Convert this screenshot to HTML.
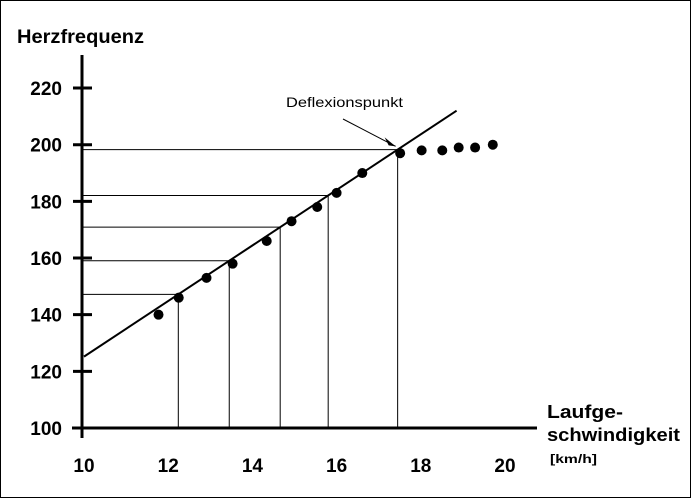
<!DOCTYPE html>
<html><head><meta charset="utf-8"><style>
html,body{margin:0;padding:0;background:#fff;}
svg{display:block;font-family:"Liberation Sans",Arial,sans-serif;}
</style></head><body>
<svg id="c" width="692" height="499" viewBox="0 0 692 499">
<rect x="0.5" y="0.5" width="690" height="497" fill="#fff" stroke="#000"/>
<text x="17" y="43" font-size="19" font-weight="bold" textLength="127" lengthAdjust="spacingAndGlyphs">Herzfrequenz</text>
<text x="547" y="418" font-size="18" font-weight="bold" textLength="76" lengthAdjust="spacingAndGlyphs">Laufge-</text>
<text x="547" y="441" font-size="18" font-weight="bold" textLength="133" lengthAdjust="spacingAndGlyphs">schwindigkeit</text>
<text x="550" y="463" font-size="12" font-weight="bold" textLength="47" lengthAdjust="spacingAndGlyphs">[km/h]</text>
<text x="286" y="107" font-size="14" textLength="117" lengthAdjust="spacingAndGlyphs">Deflexionspunkt</text>
<g id="g"></g>
</svg>
<script>
const xTicks = [10, 12, 14, 16, 18, 20];
const yTicks = [100, 120, 140, 160, 180, 200, 220];
const speeds = [11.77, 12.25, 12.91, 13.53, 14.34, 14.93, 15.54, 16.0, 16.61, 17.51, 18.02, 18.51, 18.9, 19.29, 19.71];
const heartRates = [140, 146, 153, 158, 166, 173, 178, 183, 190, 197, 198, 198, 199, 199, 200];
const lineStart = [10, 125.2];
const lineEnd = [18.85, 212];
const dropSpeeds = [12.24, 13.45, 14.66, 15.8, 17.45];
const deflection = [17.45, 198];

const X = v => 84 + (v - 10) * 42.1;
const Y = v => 428 - (v - 100) * 2.833;
const lineAt = s => lineStart[1] + (s - lineStart[0]) * (lineEnd[1] - lineStart[1]) / (lineEnd[0] - lineStart[0]);
const g = document.getElementById('g');
const NS = 'http://www.w3.org/2000/svg';
function mk(tag, attrs, txt) {
  const e = document.createElementNS(NS, tag);
  for (const k in attrs) e.setAttribute(k, attrs[k]);
  if (txt !== undefined) e.textContent = txt;
  g.appendChild(e);
  return e;
}
dropSpeeds.forEach(s => {
  const yy = Y(lineAt(s));
  let h = mk('line', {x1: 82, x2: X(s), y1: yy, y2: yy, stroke: '#000', 'stroke-width': 1});
  
  
  let v = mk('line', {x1: X(s), x2: X(s), y1: yy, y2: 428, stroke: '#000', 'stroke-width': 1});
  
  
});
let ya = mk('line', {x1: 82, x2: 82, y1: 55, y2: 438, stroke: '#000', 'stroke-width': 3});


let xa = mk('line', {x1: 72, x2: 537, y1: 428, y2: 428, stroke: '#000', 'stroke-width': 3});


yTicks.forEach(t => {
  if (t > 100) {
    let tk = mk('line', {x1: 73, x2: 92, y1: Y(t), y2: Y(t), stroke: '#000', 'stroke-width': 3});
    
    
  }
  let tl = mk('text', {x: 62, y: Y(t) + 7, 'font-size': 19, 'font-weight': 'bold', 'text-anchor': 'end'}, t);
  
  
});
xTicks.forEach(t => {
  let tl = mk('text', {x: X(t), y: 472, 'font-size': 19, 'font-weight': 'bold', 'text-anchor': 'middle'}, t);
  
  
});
let rl = mk('line', {x1: X(lineStart[0]), y1: Y(lineStart[1]), x2: X(lineEnd[0]), y2: Y(lineEnd[1]), stroke: '#000', 'stroke-width': 2});


speeds.forEach((s, i) => {
  let c = mk('circle', {cx: X(s), cy: Y(heartRates[i]), r: 5, fill: '#000'});
  
  
});
const ax = X(deflection[0]) - 2, ay = Y(deflection[1]) - 4;
let al = mk('line', {x1: 343, y1: 119, x2: ax, y2: ay, stroke: '#000', 'stroke-width': 1});


let ah = mk('polygon', {points: `${ax},${ay} ${ax-11},${ay-9} ${ax-7},${ay-1}`, fill: '#000'});


</script>
</body></html>
